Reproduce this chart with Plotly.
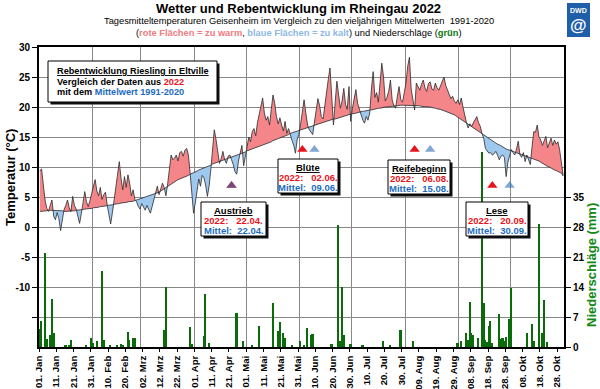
import numpy as np
import pandas as pd
import plotly.graph_objects as go

# ---------------- data ----------------
start = pd.Timestamp("2022-01-01")

# daily mean temperature Geisenheim 2022 (Jan 1 ... Oct 31)
t2022 = [
    9.3, 9.7, 7.0, 4.5, 3.1, 2.6, 3.6, 4.5, 1.8, 1.2,
    2.4, 1.4, -0.6, 1.0, 2.9, 3.6, 4.5, 3.2, 2.6, 5.1,
    3.6, 3.0, 1.8, 0.6, 2.2, 3.8, 5.9, 4.2, 3.4, 4.4,
    5.6, 6.3, 7.9, 6.0, 5.2, 6.6, 4.6, 5.4, 5.8, 3.6,
    2.2, 0.5, 2.4, 4.4, 6.2, 8.8, 10.9, 8.1, 6.2, 8.4,
    6.6, 8.7, 7.3, 5.2, 6.2, 4.6, 4.2, 3.4, 3.0, 3.9,
    3.2, 2.8, 3.6, 3.0, 2.3, 3.4, 4.4, 5.6, 6.8, 5.4,
    6.2, 7.3, 6.6, 5.2, 7.2, 10.0, 12.0, 11.2, 11.5, 12.0,
    11.0, 12.4, 12.6, 11.8, 12.8, 13.1, 12.0, 9.0, 5.5, 2.3,
    4.0, 6.5, 8.0, 6.8, 8.6, 8.2, 7.0, 5.1, 6.8, 9.6,
    12.8, 16.2, 14.6, 12.4, 10.6, 11.4, 12.6, 11.2, 10.6, 11.8,
    12.0, 11.2, 10.4, 9.2, 8.8, 11.0, 12.4, 13.6, 10.2, 12.0,
    13.8, 15.0, 14.2, 15.9, 16.4, 15.2, 17.4, 18.6, 20.2, 21.5,
    19.0, 17.8, 18.4, 17.0, 19.6, 22.0, 20.6, 18.4, 17.2, 18.2,
    17.0, 16.0, 17.6, 15.6, 16.4, 15.2, 14.4, 13.6, 12.3, 14.6,
    15.4, 17.2, 19.4, 21.2, 19.0, 17.0, 16.2, 15.8, 15.4, 17.5,
    19.6, 21.4, 20.2, 18.4, 18.0, 20.4, 22.8, 24.6, 26.5, 21.6,
    17.0, 20.8, 24.3, 22.0, 19.8, 21.0, 23.1, 20.4, 19.6, 23.4,
    17.6, 19.8, 21.6, 22.9, 20.6, 19.6, 18.6, 17.8, 17.3, 18.4,
    17.8, 19.0, 23.0, 25.9, 21.6, 22.4, 20.8, 23.6, 27.3, 25.0,
    21.0, 21.6, 22.6, 24.5, 21.2, 20.2, 19.8, 21.8, 23.4, 21.2,
    20.8, 22.4, 24.0, 26.8, 28.3, 23.0, 21.0, 19.5, 24.0, 23.4,
    22.8, 23.8, 24.5, 23.2, 22.6, 23.9, 24.2, 23.0, 22.8, 24.0,
    23.2, 22.8, 23.6, 24.4, 25.0, 23.6, 22.9, 22.0, 21.4, 21.8,
    21.0, 20.6, 21.2, 20.4, 21.5, 20.0, 18.4, 17.4, 16.5, 17.2,
    16.8, 17.4, 17.9, 18.4, 17.4, 16.8, 15.6, 14.8, 13.1, 12.6,
    12.3, 12.4, 12.0, 12.2, 12.6, 12.0, 11.2, 11.8, 12.0, 11.6,
    8.4, 10.8, 12.0, 12.9, 12.4, 12.0, 13.0, 14.3, 12.0, 11.6,
    12.4, 10.9, 12.0, 11.2, 10.4, 13.4, 15.9, 15.8, 17.0, 15.0,
    14.5, 13.6, 14.4, 15.1, 13.2, 14.2, 14.8, 13.6, 14.5, 13.8,
    14.2, 12.8, 11.0, 8.6,
]

# long-term daily mean 1991-2020
tmean = [
    2.6, 2.6, 2.7, 2.7, 2.7, 2.8, 2.8, 2.8, 2.8, 2.7,
    2.7, 2.7, 2.7, 2.7, 2.6, 2.6, 2.6, 2.6, 2.7, 2.7,
    2.7, 2.8, 2.8, 2.8, 2.9, 2.9, 3.0, 3.0, 3.0, 3.1,
    3.1, 3.2, 3.2, 3.3, 3.3, 3.4, 3.4, 3.5, 3.5, 3.6,
    3.6, 3.7, 3.7, 3.8, 3.8, 3.9, 3.9, 4.0, 4.0, 4.1,
    4.1, 4.2, 4.2, 4.3, 4.3, 4.4, 4.5, 4.6, 4.7, 4.8,
    4.9, 5.0, 5.0, 5.1, 5.2, 5.3, 5.4, 5.5, 5.7, 5.8,
    6.0, 6.2, 6.4, 6.6, 6.8, 7.0, 7.2, 7.4, 7.6, 7.7,
    7.9, 8.0, 8.1, 8.3, 8.4, 8.5, 8.6, 8.8, 8.9, 9.0,
    9.2, 9.3, 9.5, 9.6, 9.7, 9.9, 10.0, 10.1, 10.2, 10.3,
    10.5, 10.6, 10.7, 10.8, 10.9, 11.0, 11.1, 11.2, 11.4, 11.5,
    11.6, 11.7, 11.8, 11.9, 12.0, 12.1, 12.2, 12.3, 12.4, 12.5,
    12.7, 12.8, 12.9, 13.0, 13.1, 13.2, 13.3, 13.4, 13.5, 13.7,
    13.8, 13.9, 14.0, 14.1, 14.2, 14.4, 14.5, 14.6, 14.7, 14.8,
    15.0, 15.1, 15.2, 15.3, 15.4, 15.6, 15.7, 15.8, 15.9, 16.0,
    16.1, 16.2, 16.3, 16.4, 16.5, 16.6, 16.7, 16.8, 16.9, 17.0,
    17.1, 17.2, 17.3, 17.3, 17.4, 17.5, 17.6, 17.7, 17.8, 17.9,
    18.0, 18.0, 18.1, 18.2, 18.3, 18.4, 18.5, 18.5, 18.6, 18.7,
    18.8, 18.9, 18.9, 19.0, 19.1, 19.1, 19.2, 19.3, 19.3, 19.4,
    19.4, 19.5, 19.5, 19.6, 19.7, 19.7, 19.8, 19.8, 19.9, 19.9,
    20.0, 20.0, 20.1, 20.1, 20.1, 20.2, 20.2, 20.2, 20.3, 20.3,
    20.3, 20.3, 20.3, 20.3, 20.3, 20.3, 20.3, 20.2, 20.2, 20.2,
    20.2, 20.1, 20.1, 20.1, 20.0, 20.0, 20.0, 19.9, 19.9, 19.8,
    19.7, 19.7, 19.6, 19.5, 19.4, 19.3, 19.2, 19.1, 19.0, 18.8,
    18.7, 18.5, 18.3, 18.1, 17.9, 17.7, 17.5, 17.3, 17.1, 16.9,
    16.7, 16.5, 16.3, 16.1, 15.9, 15.7, 15.5, 15.3, 15.1, 14.9,
    14.7, 14.6, 14.4, 14.2, 14.0, 13.8, 13.7, 13.5, 13.3, 13.2,
    13.0, 12.9, 12.8, 12.7, 12.6, 12.5, 12.4, 12.3, 12.2, 12.1,
    12.0, 11.9, 11.8, 11.7, 11.6, 11.5, 11.4, 11.3, 11.2, 11.0,
    10.8, 10.6, 10.4, 10.3, 10.1, 10.0, 9.8, 9.7, 9.5, 9.4,
    9.2, 9.1, 9.0, 8.5,
]

# daily precipitation (day of year index from Jan 1 = 0, mm)
precip_day = [0, 1, 3, 4, 6, 7, 8, 15, 17, 18, 27, 30, 31, 33, 36, 37, 41, 45, 47, 48,
              51, 52, 54, 55, 72, 73, 87, 88, 95, 96, 98, 114, 118, 123, 127, 135, 138,
              139, 141, 142, 146, 151, 153, 155, 157, 158, 169, 173, 174, 175, 176, 180,
              187, 199, 203, 209, 216, 242, 244, 247, 248, 249, 250, 251, 254, 256, 257,
              258, 259, 260, 261, 262, 266, 267, 268, 269, 270, 272, 273, 282, 285, 286,
              289, 291, 292, 294]
precip_mm = [4.2, 6.1, 22.0, 1.9, 2.8, 11.2, 3.2, 0.3, 0.5, 1.6, 0.5, 2.2, 1.0, 1.4, 17.7, 1.6, 0.3, 0.5, 0.8, 0.5,
             3.5, 1.6, 2.2, 2.0, 4.0, 14.0, 4.7, 0.6, 2.6, 12.4, 0.9, 7.9, 1.4, 0.3, 4.9, 10.3, 3.7,
             5.8, 3.3, 2.2, 0.5, 1.3, 0.5, 4.4, 2.8, 3.0, 0.7, 28.4, 1.3, 13.9, 2.8, 0.8,
             0.5, 1.5, 0.5, 4.0, 1.3, 1.0, 1.5, 3.3, 1.6, 10.5, 3.2, 2.8, 2.2, 45.5, 10.2,
             1.6, 1.2, 4.9, 6.1, 1.0, 7.8, 1.8, 2.0, 1.3, 2.4, 6.6, 13.8, 3.2, 5.4, 1.4,
             28.6, 3.3, 11.0, 1.1]

# phenology (dates 2022 / long-term mean)
pheno_names = ["Austrieb", "Blüte", "Reifebeginn", "Lese"]
pheno_2022 = ["2022-04-22", "2022-06-02", "2022-08-06", "2022-09-20"]
pheno_mean = ["2022-04-22", "2022-06-09", "2022-08-15", "2022-09-30"]
pheno_level = [6.9, 12.9, 12.9, 6.9]   # marker height in °C
pheno_lbl_2022 = ["22.04.", "02.06.", "06.08.", "20.09."]
pheno_lbl_mean = ["22.04.", "09.06.", "15.08.", "30.09."]

month_abbr = ["Jan", "Feb", "Mrz", "Apr", "Mai", "Jun", "Jul", "Aug", "Sep", "Okt", "Nov", "Dez"]
tick_dates = pd.date_range("2022-01-01", "2022-10-28", freq="10D")
tick_text = [f"{d.day:02d}. {month_abbr[d.month - 1]}" for d in tick_dates]
month_starts = pd.date_range("2022-02-01", "2022-11-01", freq="MS")

temp_ticks = [-15, -10, -5, 0, 5, 10, 15, 20, 25, 30]
temp_ticktext = ["", "-10", "-5", "0", "5", "10", "15", "20", "25", "30"]
prec_ticks = [0, 7, 14, 21, 28, 35]

# ---------------- colours / fonts ----------------
RED_FILL = "#F4868A"
BLUE_FILL = "#9FC8EE"
LINE = "#2a2a2a"
GREEN = "#0B6B0B"
RED_T = "#E8141C"
BLUE_T = "#1E6CC0"
FONT = "Liberation Sans, Arial, sans-serif"

# ---------------- geometry helpers (layout only) ----------------
L, R, T, B, W, H = 39, 36, 47, 42, 600, 389
PW, PH = W - L - R, H - T - B


def px(x):
    return (x - L) / PW


def py(y):
    return (H - B - y) / PH


# ---------------- temperature fills ----------------
a = np.array(t2022, dtype=float)
m = np.array(tmean, dtype=float)
xd = np.arange(len(a)) + 0.5  # values placed at noon of each day
xs, ms, as_ = [], [], []
for i in range(len(a)):
    xs.append(xd[i]); ms.append(m[i]); as_.append(a[i])
    if i < len(a) - 1:
        d0, d1 = a[i] - m[i], a[i + 1] - m[i + 1]
        if d0 * d1 < 0:
            t = d0 / (d0 - d1)
            mm = m[i] + t * (m[i + 1] - m[i])
            xs.append(xd[i] + t); ms.append(mm); as_.append(mm)
xs_dt = start + pd.to_timedelta(np.array(xs), unit="D")
ms = np.array(ms); as_ = np.array(as_)
upper = np.maximum(as_, ms)
lower = np.minimum(as_, ms)
days_dt = start + pd.to_timedelta(xd, unit="D")

fig = go.Figure()
fig.add_trace(go.Scatter(x=xs_dt, y=ms, mode="lines", line=dict(width=0), hoverinfo="skip", showlegend=False))
fig.add_trace(go.Scatter(x=xs_dt, y=upper, mode="lines", line=dict(width=0), fill="tonexty",
                         fillcolor=RED_FILL, hoverinfo="skip", showlegend=False))
fig.add_trace(go.Scatter(x=xs_dt, y=ms, mode="lines", line=dict(width=0), hoverinfo="skip", showlegend=False))
fig.add_trace(go.Scatter(x=xs_dt, y=lower, mode="lines", line=dict(width=0), fill="tonexty",
                         fillcolor=BLUE_FILL, hoverinfo="skip", showlegend=False))
fig.add_trace(go.Scatter(x=days_dt, y=m, mode="lines", line=dict(width=0.8, color=LINE), showlegend=False))
fig.add_trace(go.Scatter(x=days_dt, y=a, mode="lines", line=dict(width=0.8, color=LINE), showlegend=False))

# phenology markers
p22 = pd.to_datetime(pheno_2022) + pd.Timedelta(hours=12)
pmn = pd.to_datetime(pheno_mean) + pd.Timedelta(hours=12)
fig.add_trace(go.Scatter(x=p22, y=pheno_level, mode="markers", showlegend=False,
                         marker=dict(symbol="triangle-up", size=9, color=RED_T, line=dict(width=0))))
fig.add_trace(go.Scatter(x=pmn, y=pheno_level, mode="markers", showlegend=False, opacity=0.6,
                         marker=dict(symbol="triangle-up", size=9, color="#2E6DB8", line=dict(width=0))))

# precipitation
pdates = start + pd.to_timedelta(np.array(precip_day) + 0.5, unit="D")
fig.add_trace(go.Bar(x=pdates, y=precip_mm, yaxis="y2", marker=dict(color=GREEN, line=dict(width=0)),
                     width=86400000 * 0.95, showlegend=False))

# ---------------- annotations & boxes ----------------
ann = []
shapes = []


def text_at(text, x, y, size, color="black", xanchor="center", angle=0):
    ann.append(dict(text=text, x=px(x), xref="paper", y=py(y), yref="paper", showarrow=False,
                    textangle=angle, font=dict(size=size, color=color, family=FONT),
                    xanchor=xanchor, yanchor="middle", borderpad=0))


# titles
text_at("<b>Wetter und Rebentwicklung im Rheingau 2022</b>", 298, 8, 13)
text_at("Tagesmitteltemperaturen Geisenheim im Vergleich zu den vieljährigen Mittelwerten\u00a0 1991-2020",
        299, 21, 9.3)
text_at("(<b><span style='color:#F07C80'>rote Flächen = zu warm</span></b>, "
        "<b><span style='color:#8DB8E6'>blaue Flächen = zu kalt</span></b>) und Niederschläge "
        "(<b><span style='color:#0B7A0B'>grün</span></b>)", 299, 33, 9.3)

# axis titles
text_at("<b>Temperatur (°C)</b>", 10, 178, 13, angle=-90)
text_at("<b>Niederschläge (mm)</b>", 591, 265, 13, color="#118811", angle=-90)


def box(x0, y0, x1, y1):
    shapes.append(dict(type="rect", xref="paper", yref="paper", x0=px(x0 + 2.5), x1=px(x1 + 2.5),
                       y0=py(y1 + 2.5), y1=py(y0 + 2.5), fillcolor="#111111", line=dict(width=0),
                       layer="above"))
    shapes.append(dict(type="rect", xref="paper", yref="paper", x0=px(x0), x1=px(x1),
                       y0=py(y1), y1=py(y0), fillcolor="white", line=dict(width=1, color="black"),
                       layer="above"))


# legend box
box(48, 61, 217, 102)
text_at("<b><u>Rebentwicklung Riesling in Eltville</u></b>", 55.5, 71, 9.2, xanchor="left")
text_at(f"<b>Vergleich der Daten aus <span style='color:{RED_T}'>2022</span></b>", 55.5, 81.5, 9.2,
        xanchor="left")
text_at(f"<b>mit dem <span style='color:{BLUE_T}'>Mittelwert 1991-2020</span></b>", 55.5, 92, 9.2,
        xanchor="left")

# phenology boxes (pixel bounds of the boxes, layout only)
box_bounds = [(201, 202, 266, 236), (278, 159, 338, 193), (388, 160, 450, 194), (466, 202, 528, 236)]
for name, l22, lmn, (x0, y0, x1, y1) in zip(pheno_names, pheno_lbl_2022, pheno_lbl_mean, box_bounds):
    box(x0, y0, x1, y1)
    cx = (x0 + x1) / 2
    text_at(f"<b><u>{name}</u></b>", cx, y0 + 8.5, 9.5)
    text_at(f"<b>2022:\u00a0\u00a0 {l22}</b>", cx, y0 + 18.5, 9.5, color=RED_T)
    text_at(f"<b>Mittel:\u00a0 {lmn}</b>", cx, y0 + 28.5, 9.5, color=BLUE_T)

# DWD logo
shapes.append(dict(type="rect", xref="paper", yref="paper", x0=px(567), x1=px(590), y0=py(37), y1=py(3),
                   fillcolor="#1F5EA8", line=dict(width=0), layer="below"))
text_at("<b>DWD</b>", 578.5, 10, 7, color="white")
text_at("<b>@</b>", 578.5, 25, 17, color="white")

fig.update_layout(
    width=W, height=H,
    margin=dict(l=L, r=R, t=T, b=B, autoexpand=False),
    paper_bgcolor="white", plot_bgcolor="white",
    bargap=0, barmode="overlay",
    font=dict(family=FONT, color="black"),
    annotations=ann, shapes=shapes,
    xaxis=dict(type="date", range=[start, pd.Timestamp("2022-11-01")],
               tickvals=tick_dates, ticktext=tick_text, tickangle=-90,
               tickfont=dict(size=9.5, family=FONT, weight="bold", color="black"),
               ticks="outside", ticklen=3, tickcolor="black",
               showgrid=False, zeroline=False,
               minor=dict(tickvals=month_starts, showgrid=True, gridcolor="#888888", gridwidth=1, ticks=""),
               showline=True, linecolor="black", linewidth=2, mirror=True),
    yaxis=dict(range=[-20, 30], tickvals=temp_ticks, ticktext=temp_ticktext,
               tickfont=dict(size=10, family=FONT, weight="bold", color="black"),
               ticks="outside", ticklen=5, tickcolor="black",
               showgrid=True, gridcolor="#888888", gridwidth=1, zeroline=False,
               showline=True, linecolor="black", linewidth=2, mirror=True),
    yaxis2=dict(range=[0, 70], overlaying="y", side="right", tickvals=prec_ticks,
                tickfont=dict(size=10, family=FONT, weight="bold", color="black"),
                ticks="outside", ticklen=5, tickcolor="black",
                showgrid=False, zeroline=False, showline=True, linecolor="black", linewidth=2),
)

assert len(t2022) == len(tmean) == 304
assert len(precip_day) == len(precip_mm)

fig.write_html("out.html", config={"displayModeBar": False},
               post_script="document.body.style.margin='0';document.body.style.padding='0';")
